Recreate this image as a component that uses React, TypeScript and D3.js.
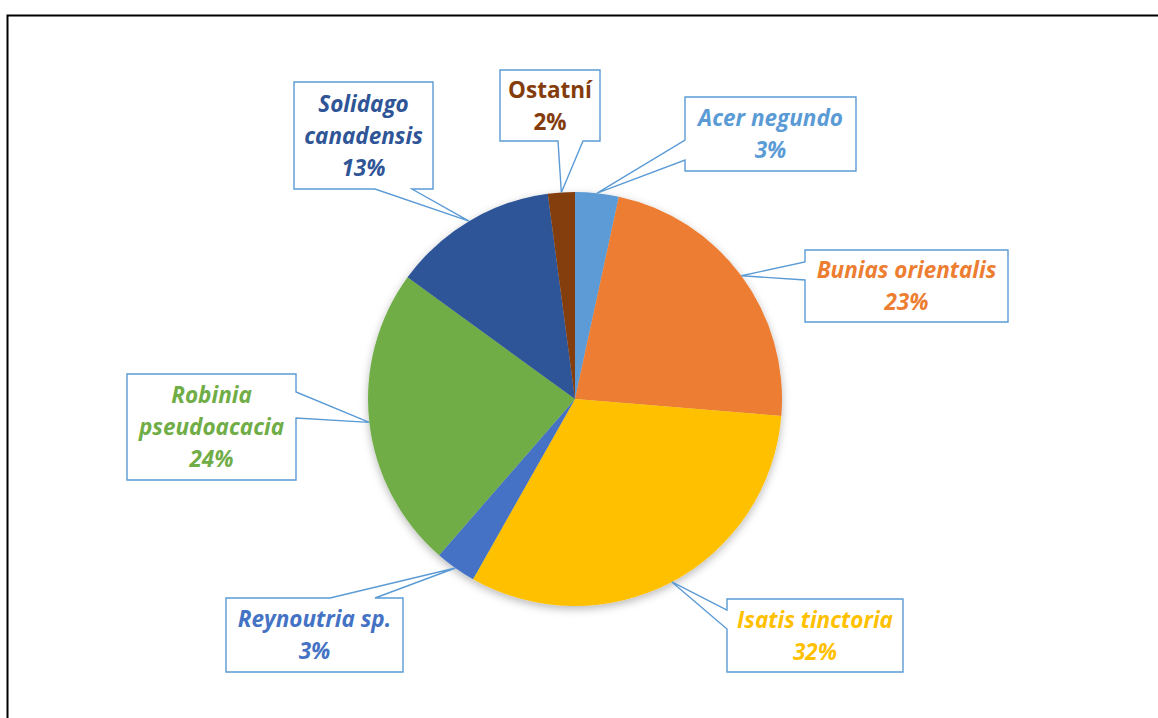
import React from "react";
import * as d3 from "d3";

// ---- data ----
const categories = [
  "Acer negundo",
  "Bunias orientalis",
  "Isatis tinctoria",
  "Reynoutria sp.",
  "Robinia pseudoacacia",
  "Solidago canadensis",
  "Ostatní",
];
const values = [3.4, 22.9, 31.9, 3.2, 23.6, 12.9, 2.1];
const colors = ["#5B9BD5", "#ED7D31", "#FFC000", "#4472C4", "#70AD47", "#2F5597", "#843C0C"];

// ---- layout (label callouts, manual placement as in original) ----
type Side = "top" | "right" | "bottom" | "left";
interface Callout {
  box: [number, number, number, number];
  side: Side;
  a: number;
  b: number;
  lines: number; // number of name lines
  italic: boolean;
}
const callouts: Callout[] = [
  { box: [685, 97, 856, 171], side: "left", a: 140, b: 160, lines: 1, italic: true },
  { box: [805, 250, 1008, 322], side: "left", a: 262, b: 280, lines: 1, italic: true },
  { box: [727, 599, 903, 672], side: "left", a: 610, b: 629, lines: 1, italic: true },
  { box: [226, 598, 403, 672], side: "top", a: 330, b: 375, lines: 1, italic: true },
  { box: [127, 374, 296, 480], side: "right", a: 392, b: 418, lines: 2, italic: true },
  { box: [294, 82, 433, 189], side: "bottom", a: 375, b: 412, lines: 2, italic: true },
  { box: [500, 70, 600, 141], side: "bottom", a: 558, b: 583, lines: 1, italic: false },
];

const W = 1158;
const H = 718;
const cx = 575;
const cy = 399;
const R = 207;
const LINE_H = 32;
const FONT = "'Open Sans', Lato, sans-serif";
const FONT_SIZE = 22.5;

function calloutPath(c: Callout, tip: [number, number]): string {
  const [x0, y0, x1, y1] = c.box;
  const p = d3.path();
  const t = tip;
  p.moveTo(x0, y0);
  if (c.side === "top") {
    p.lineTo(c.a, y0);
    p.lineTo(t[0], t[1]);
    p.lineTo(c.b, y0);
  }
  p.lineTo(x1, y0);
  if (c.side === "right") {
    p.lineTo(x1, c.a);
    p.lineTo(t[0], t[1]);
    p.lineTo(x1, c.b);
  }
  p.lineTo(x1, y1);
  if (c.side === "bottom") {
    p.lineTo(c.b, y1);
    p.lineTo(t[0], t[1]);
    p.lineTo(c.a, y1);
  }
  p.lineTo(x0, y1);
  if (c.side === "left") {
    p.lineTo(x0, c.b);
    p.lineTo(t[0], t[1]);
    p.lineTo(x0, c.a);
  }
  p.closePath();
  return p.toString();
}

function splitName(name: string, lines: number): string[] {
  if (lines <= 1) return [name];
  const parts = name.split(" ");
  return [parts[0], parts.slice(1).join(" ")];
}

export default function App() {
  const pie = d3
    .pie<number>()
    .sort(null)
    .value((d) => d);
  const arcs = pie(values);
  const arcGen = d3.arc<d3.PieArcDatum<number>>().innerRadius(0).outerRadius(R);

  return (
    <svg
      width={W}
      height={H}
      style={{ position: "absolute", left: 0, top: 0, background: "#fff" }}
    >
      <defs>
        <filter id="sh" x="-20%" y="-20%" width="140%" height="140%">
          <feDropShadow dx="0" dy="3" stdDeviation="4" floodColor="#000" floodOpacity="0.28" />
        </filter>
      </defs>
      <rect x={7.5} y={15.5} width={1300} height={900} fill="#fff" stroke="#000" strokeWidth={2} />
      <g transform={`translate(${cx},${cy})`} filter="url(#sh)">
        {arcs.map((a, i) => (
          <path key={i} d={arcGen(a) || ""} fill={colors[i]} />
        ))}
      </g>
      {arcs.map((a, i) => {
        const c = callouts[i];
        const mid = (a.startAngle + a.endAngle) / 2;
        const tip: [number, number] = [cx + R * Math.sin(mid), cy - R * Math.cos(mid)];
        const [x0, y0, x1, y1] = c.box;
        const nameLines = splitName(categories[i], c.lines);
        const allLines = [...nameLines, `${Math.round(values[i])}%`];
        const midY = (y0 + y1) / 2;
        const startY = midY - ((allLines.length - 1) * LINE_H) / 2;
        return (
          <g key={`c${i}`}>
            <path d={calloutPath(c, tip)} fill="#fff" stroke="#5B9BD5" strokeWidth={1.4} />
            {allLines.map((t, j) => (
              <text
                key={j}
                x={(x0 + x1) / 2}
                y={startY + j * LINE_H}
                dy="0.36em"
                textAnchor="middle"
                fontFamily={FONT}
                fontWeight={700}
                fontStyle={c.italic ? "italic" : "normal"}
                fontSize={FONT_SIZE}
                fill={colors[i]}
              >
                {t}
              </text>
            ))}
          </g>
        );
      })}
    </svg>
  );
}
